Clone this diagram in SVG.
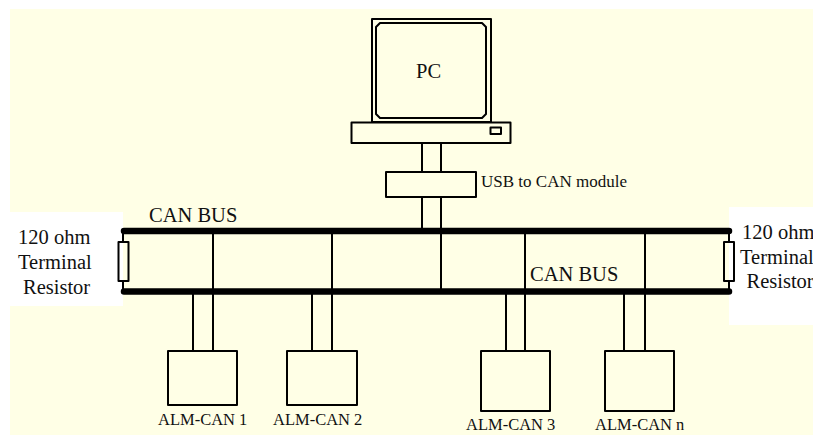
<svg xmlns="http://www.w3.org/2000/svg" width="813" height="436" viewBox="0 0 813 436">
<style>
.s{fill:none;stroke:#000;stroke-width:2}
.b{fill:none;stroke:#000;stroke-width:2;stroke-linejoin:round}
.bus{fill:none;stroke:#000;stroke-width:6.500;stroke-linecap:round}
text{font-family:"Liberation Serif","Times New Roman",serif;fill:#111}
.l{font-size:20.500px}
.a{font-size:16.500px}
</style>
<rect width="813" height="436" fill="#fff"/>
<rect x="10" y="9" width="803" height="426" fill="#ffffe6"/>
<rect x="10" y="212" width="113" height="94" fill="#fff"/>
<rect x="729" y="207" width="84" height="118" fill="#fff"/>
<g id="connectors">
<path class="s" d="M422 143V172M441 143V172M422 197V231M441 197V291"/>
<path class="s" d="M213 231V351M193 291V351M332 231V351M312 291V351M525 231V351M506 291V351M645 231V351M624 291V351"/>
<path class="s" d="M123 231V242M123 281V291M729 231V242M729 281V291"/>
<path class="bus" d="M124 231H729M124 291.500H729"/>
</g>
<g id="pc">
<rect class="b" x="372" y="19" width="119" height="103"/>
<path class="b" d="M380 23H482L486 27V114L482 118H380L376 114V27Z"/>
<rect class="b" x="351.500" y="122.500" width="159" height="20.500"/>
<rect class="b" x="490.500" y="127.500" width="10.500" height="6.500"/>
<text x="416" y="78" class="l">PC</text>
</g>
<g id="usb-module">
<rect class="b" x="386" y="172" width="90" height="25"/>
<text x="481" y="187" font-size="17">USB to CAN module</text>
</g>
<g id="can-bus-label-top"><text x="149" y="222" class="l">CAN BUS</text></g>
<g id="can-bus-label-bottom"><text x="530" y="281" class="l">CAN BUS</text></g>
<g id="resistor-left">
<rect class="b" x="118.500" y="242" width="10" height="39" fill="#ffffe6"/>
<text x="18" y="244" class="l">120 ohm</text>
<text x="18" y="268.500" class="l">Terminal</text>
<text x="23" y="294" class="l">Resistor</text>
</g>
<g id="resistor-right">
<rect class="b" x="724" y="242" width="10" height="39" fill="#fff"/>
<text x="742" y="238.500" class="l">120 ohm</text>
<text x="740" y="263.500" class="l">Terminal</text>
<text x="746.500" y="288" class="l">Resistor</text>
</g>
<g id="alm-can-1"><rect class="b" x="168" y="351" width="69" height="54"/><text x="158" y="425" class="a">ALM-CAN 1</text></g>
<g id="alm-can-2"><rect class="b" x="287" y="351" width="70" height="54"/><text x="273" y="425" class="a">ALM-CAN 2</text></g>
<g id="alm-can-3"><rect class="b" x="481" y="351" width="69" height="60"/><text x="466" y="430" class="a">ALM-CAN 3</text></g>
<g id="alm-can-n"><rect class="b" x="605" y="351" width="69" height="60"/><text x="595" y="430" class="a">ALM-CAN n</text></g>
</svg>
